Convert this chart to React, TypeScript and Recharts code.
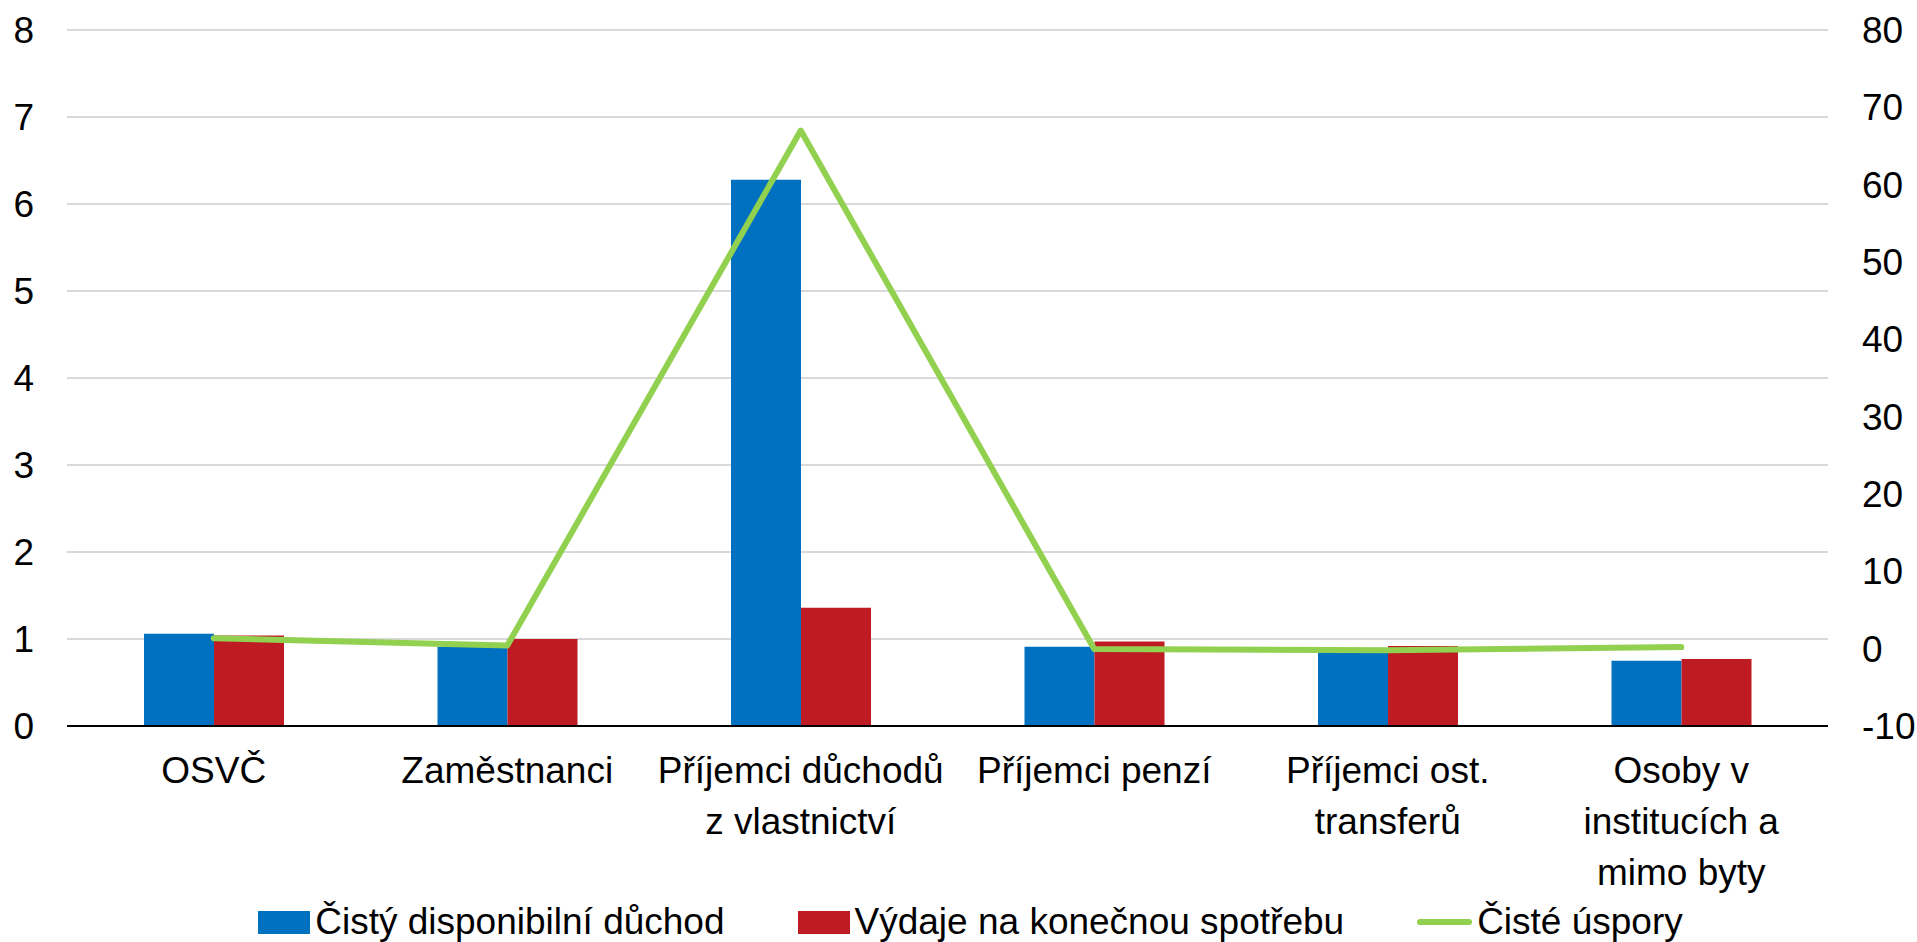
import React from "react";
import {
  ComposedChart,
  Bar,
  Line,
  XAxis,
  YAxis,
  CartesianGrid,
  Legend,
} from "recharts";

const FONT = "'Liberation Sans', Arial, sans-serif";
const FONT_SIZE = 37;

const categories = [
  "OSVČ",
  "Zaměstnanci",
  "Příjemci důchodů\nz vlastnictví",
  "Příjemci penzí",
  "Příjemci ost.\ntransferů",
  "Osoby v\ninstitucích a\nmimo byty",
];

// left axis
const disposableIncome = [1.06, 0.91, 6.28, 0.91, 0.87, 0.75];
const consumption = [1.04, 1.0, 1.36, 0.97, 0.92, 0.77];
// right axis
const netSavings = [1.35, 0.4, 67.0, -0.05, -0.2, 0.2];

const leftTicks = [0, 1, 2, 3, 4, 5, 6, 7, 8];
const rightTicks = [-10, 0, 10, 20, 30, 40, 50, 60, 70, 80];

const seriesNames = {
  income: "Čistý disponibilní důchod",
  consumption: "Výdaje na konečnou spotřebu",
  savings: "Čisté úspory",
};

const BLUE = "#0070C0";
const RED = "#BE1B22";
const GREEN = "#92D050";

const data = categories.map((name, i) => ({
  name,
  income: disposableIncome[i],
  consumption: consumption[i],
  savings: netSavings[i],
}));

const CategoryTick = (props: any) => {
  const { x, y, payload } = props;
  const lines = String(payload.value).split("\n");
  return (
    <text
      x={x}
      y={y}
      textAnchor="middle"
      fontSize={FONT_SIZE}
      fontFamily={FONT}
      fill="#000"
    >
      {lines.map((line, i) => (
        <tspan key={i} x={x} dy={i === 0 ? 57 : 51}>
          {line}
        </tspan>
      ))}
    </text>
  );
};

const LegendContent = () => {
  const items = [
    { label: seriesNames.income, color: BLUE, kind: "rect" },
    { label: seriesNames.consumption, color: RED, kind: "rect" },
    { label: seriesNames.savings, color: GREEN, kind: "line" },
  ];
  return (
    <div
      style={{
        height: 50,
        boxSizing: "border-box",
        paddingTop: 10,
        paddingLeft: 24,
        display: "flex",
        justifyContent: "center",
        alignItems: "center",
        gap: 73,
        fontFamily: FONT,
        fontSize: FONT_SIZE,
        color: "#000",
      }}
    >
      {items.map((it) => (
        <div
          key={it.label}
          style={{ display: "flex", alignItems: "center", gap: 5 }}
        >
          {it.kind === "rect" ? (
            <div style={{ width: 52, height: 23, background: it.color }} />
          ) : (
            <div
              style={{
                width: 55,
                height: 6,
                borderRadius: 3,
                background: it.color,
              }}
            />
          )}
          <span style={{ lineHeight: "40px", whiteSpace: "nowrap" }}>
            {it.label}
          </span>
        </div>
      ))}
    </div>
  );
};

export default function App() {
  return (
    <div style={{ position: "absolute", left: 0, top: 0, background: "#fff" }}>
      <ComposedChart
        width={1917}
        height={942}
        data={data}
        margin={{ top: 30, right: 0, left: 0, bottom: 0 }}
        barGap={0}
      >
        <CartesianGrid
          yAxisId="left"
          vertical={false}
          stroke="#D9D9D9"
          strokeWidth={2}
        />
        <XAxis
          dataKey="name"
          interval={0}
          height={166}
          tickSize={0}
          tickMargin={0}
          tickLine={false}
          axisLine={{ stroke: "#000", strokeWidth: 2 }}
          tick={<CategoryTick />}
        />
        <YAxis
          yAxisId="left"
          orientation="left"
          width={67}
          domain={[0, 8]}
          ticks={leftTicks}
          interval={0}
          axisLine={false}
          tickLine={false}
          tickSize={0}
          tickMargin={33}
          tick={{ fontSize: FONT_SIZE, fill: "#000", fontFamily: FONT }}
        />
        <YAxis
          yAxisId="right"
          orientation="right"
          width={89}
          domain={[-10, 80]}
          ticks={rightTicks}
          interval={0}
          axisLine={false}
          tickLine={false}
          tickSize={0}
          tickMargin={34}
          tick={{ fontSize: FONT_SIZE, fill: "#000", fontFamily: FONT }}
        />
        <Bar
          yAxisId="left"
          dataKey="income"
          name={seriesNames.income}
          fill={BLUE}
          barSize={70}
          isAnimationActive={false}
        />
        <Bar
          yAxisId="left"
          dataKey="consumption"
          name={seriesNames.consumption}
          fill={RED}
          barSize={70}
          isAnimationActive={false}
        />
        <Line
          yAxisId="right"
          type="linear"
          dataKey="savings"
          name={seriesNames.savings}
          stroke={GREEN}
          strokeWidth={6}
          strokeLinecap="round"
          strokeLinejoin="round"
          dot={false}
          activeDot={false}
          isAnimationActive={false}
        />
        <Legend verticalAlign="bottom" height={50} content={<LegendContent />} />
      </ComposedChart>
    </div>
  );
}
